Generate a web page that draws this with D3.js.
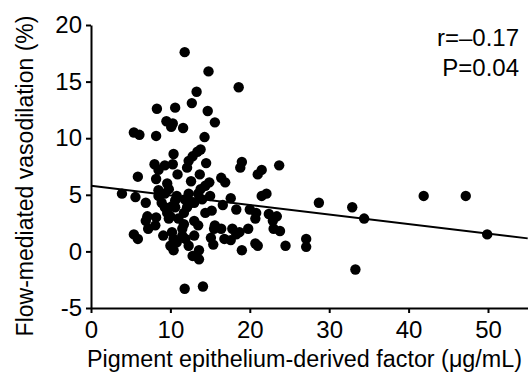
<!DOCTYPE html>
<html>
<head>
<meta charset="utf-8">
<script src="https://cdn.jsdelivr.net/npm/d3@7"></script>
<style>
  body { margin: 0; background: #fff; }
  text { font-family: "Liberation Sans", Arial, sans-serif; fill: #000; }
</style>
</head>
<body>
<div id="chart"></div>
<script>
// PEDF (x) against FMD (y), one entry per subject
const pedf = [11.8, 14.8, 18.6, 13.3, 12.7, 8.3, 10.6, 14.7, 15.6, 9.5,
  10.3, 10.1, 11.6, 5.4, 6.1, 8.2, 14.3, 13.8, 13.4, 12.8,
  10.4, 12.3, 14.5, 19.0, 18.8, 23.7, 8.0, 9.3, 10.3, 8.5,
  10.9, 12.1, 13.7, 21.5, 21.0, 5.9, 8.2, 12.6, 16.4, 16.9,
  14.9, 14.4, 9.6, 9.8, 13.8, 13.5, 3.9, 5.6, 8.5, 9.3,
  10.8, 12.3, 15.0, 22.1, 21.5, 28.7, 32.9, 34.4, 41.9, 47.2,
  49.9, 33.3, 11.8, 14.1, 6.9, 8.9, 11.8, 13.0, 17.6, 16.6,
  18.3, 20.0, 20.8, 15.2, 22.4, 23.4, 22.9, 23.0, 23.8, 20.7,
  19.8, 18.7, 17.8, 16.8, 17.6, 18.3, 19.0, 20.7, 21.0, 24.5,
  27.1, 27.1, 15.4, 15.1, 15.5, 16.4, 15.6, 5.4, 5.9, 7.2,
  6.9, 8.1, 8.2, 7.1, 9.1, 9.6, 10.0, 9.3, 10.6, 11.0,
  11.7, 11.5, 11.9, 12.3, 13.0, 13.0, 13.5, 12.8, 13.6, 13.6,
  10.2, 10.4, 10.0, 10.4, 10.8, 11.5, 10.2, 12.1, 12.5, 10.6,
  8.5, 14.0, 14.4, 9.8, 11.7];
const fmd = [17.6, 15.9, 14.5, 14.1, 13.1, 12.6, 12.7, 12.4, 11.4, 11.5,
  11.3, 11.0, 10.9, 10.5, 10.3, 10.2, 10.1, 9.0, 8.8, 8.4,
  8.6, 8.0, 7.8, 7.9, 7.4, 7.6, 7.7, 7.6, 7.7, 7.2,
  6.8, 7.4, 6.8, 7.2, 6.8, 6.6, 6.4, 6.2, 6.5, 6.1,
  6.1, 5.8, 6.0, 5.5, 5.5, 5.1, 5.1, 4.8, 4.9, 5.1,
  4.9, 5.1, 4.9, 5.1, 4.9, 4.3, 3.9, 2.9, 4.9, 4.9,
  1.5, -1.6, -3.3, -3.1, 4.3, 4.3, 4.6, 4.3, 4.7, 4.1,
  3.7, 3.7, 3.4, 3.6, 3.3, 3.1, 2.7, 2.0, 1.8, 2.9,
  2.0, 1.7, 2.0, 1.1, 1.0, 1.5, 0.1, 0.7, 0.5, 0.5,
  1.1, 0.4, 0.6, 1.2, 2.0, 2.0, 2.3, 1.5, 1.1, 2.0,
  2.7, 2.3, 3.0, 3.1, 1.4, 3.4, 3.1, 3.9, 3.9, 2.9,
  3.4, 2.0, 1.1, 0.5, 1.4, 2.7, 2.3, -0.4, -0.7, 0.1,
  1.7, 1.1, 0.5, 0.1, 0.8, 1.4, 4.0, 3.9, 4.3, 4.5,
  5.4, 4.6, 3.4, 2.9, 2.4];

// regression line end points
const fitX = [0, 55];
const fitY = [5.8, 1.15];

const xTicks = [0, 10, 20, 30, 40, 50];
const yTicks = [-5, 0, 5, 10, 15, 20];
const stats = ["r=\u20130.17", "P=0.04"];

const width = 528, height = 374;
const margin = { top: 25, right: 0.3, bottom: 66, left: 91 };

const svg = d3.select("#chart")
  .append("svg")
  .attr("width", width)
  .attr("height", height);

const x = d3.scaleLinear()
  .domain([0, 55])
  .range([margin.left, width - margin.right]);

const y = d3.scaleLinear()
  .domain([-5, 20])
  .range([height - margin.bottom, margin.top]);

// axes
const xAxis = svg.append("g")
  .attr("transform", "translate(0," + y(-5) + ")")
  .call(d3.axisBottom(x).tickValues(xTicks).tickFormat(d => String(d)).tickSize(5).tickPadding(8).tickSizeOuter(0));

const yAxis = svg.append("g")
  .attr("transform", "translate(" + x(0) + ",0)")
  .call(d3.axisLeft(y).tickValues(yTicks).tickFormat(d => String(d)).tickSize(5).tickPadding(4).tickSizeOuter(0));

[xAxis, yAxis].forEach(g => {
  g.select(".domain").attr("stroke", "#000").attr("stroke-width", 2);
  g.selectAll(".tick line").attr("stroke", "#000").attr("stroke-width", 2);
  g.selectAll(".tick text")
    .style("font-size", "24px")
    .style("font-family", "'Liberation Sans', Arial, sans-serif")
    .attr("fill", "#000");
});

// points
svg.append("g")
  .selectAll("circle")
  .data(pedf.map((v, i) => [v, fmd[i]]))
  .enter()
  .append("circle")
  .attr("cx", d => x(d[0]))
  .attr("cy", d => y(d[1]))
  .attr("r", 5.2)
  .attr("fill", "#000");

// fitted line
svg.append("line")
  .attr("x1", x(fitX[0]))
  .attr("y1", y(fitY[0]))
  .attr("x2", x(fitX[1]))
  .attr("y2", y(fitY[1]))
  .attr("stroke", "#000")
  .attr("stroke-width", 2);

// stats
svg.append("g")
  .selectAll("text")
  .data(stats)
  .enter()
  .append("text")
  .attr("x", 519)
  .attr("y", (d, i) => 46 + i * 30)
  .attr("text-anchor", "end")
  .style("font-size", "24px")
  .text(d => d);

// axis titles
svg.append("text")
  .attr("x", 87)
  .attr("y", 367)
  .attr("textLength", 435)
  .attr("lengthAdjust", "spacingAndGlyphs")
  .style("font-size", "23px")
  .text("Pigment epithelium-derived factor (\u03bcg/mL)");

svg.append("text")
  .attr("transform", "translate(33," + 176 + ") rotate(-90)")
  .attr("text-anchor", "middle")
  .style("font-size", "23px")
  .text("Flow-mediated vasodilation (%)");
</script>
</body>
</html>
